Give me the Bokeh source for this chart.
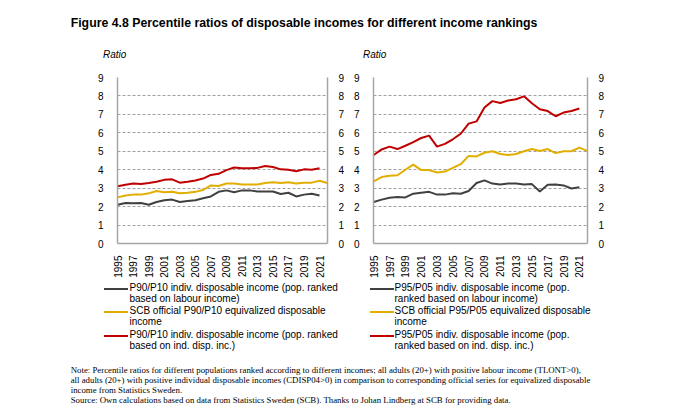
import math
from bokeh.plotting import figure
from bokeh.models import (Range1d, LinearAxis, FixedTicker, Div)
from bokeh.layouts import column, row
from bokeh.embed import file_html
from bokeh.resources import INLINE

# ---------------- data ----------------
years_scb = [1995, 1996, 1997, 1998, 1999, 2000, 2001, 2002, 2003, 2004, 2005, 2006, 2007,
             2008, 2009, 2010, 2011, 2012, 2013, 2014, 2015, 2016, 2017, 2018, 2019, 2020,
             2021, 2022]
years_ind = [1995, 1996, 1997, 1998, 1999, 2000, 2001, 2002, 2003, 2004, 2005, 2006, 2007,
             2008, 2009, 2010, 2011, 2012, 2013, 2014, 2015, 2016, 2017, 2018, 2019, 2020,
             2021]
x_tick_years = [1995, 1997, 1999, 2001, 2003, 2005, 2007, 2009, 2011, 2013, 2015, 2017, 2019, 2021]
y_ticks = [0, 1, 2, 3, 4, 5, 6, 7, 8, 9]

# Left panel: P90/P10
p90p10_labour = [2.10, 2.20, 2.18, 2.20, 2.10, 2.25, 2.35, 2.38, 2.25, 2.30, 2.35, 2.45, 2.55,
                 2.80, 2.88, 2.78, 2.88, 2.88, 2.82, 2.82, 2.82, 2.68, 2.75, 2.55, 2.65, 2.70,
                 2.60]
scb_p90p10 = [2.50, 2.60, 2.65, 2.65, 2.72, 2.85, 2.78, 2.80, 2.72, 2.75, 2.80, 2.90, 3.15,
              3.12, 3.25, 3.25, 3.20, 3.20, 3.20, 3.28, 3.32, 3.28, 3.32, 3.25, 3.30, 3.30,
              3.40, 3.28]
p90p10_ind = [3.10, 3.18, 3.25, 3.22, 3.28, 3.35, 3.45, 3.48, 3.30, 3.35, 3.42, 3.52, 3.72,
              3.78, 3.98, 4.12, 4.08, 4.08, 4.10, 4.20, 4.15, 4.02, 4.00, 3.92, 4.02, 4.00,
              4.08]

# Right panel: P95/P05
p95p05_labour = [2.25, 2.38, 2.48, 2.52, 2.50, 2.70, 2.75, 2.80, 2.65, 2.65, 2.72, 2.70, 2.85,
                 3.28, 3.42, 3.25, 3.20, 3.25, 3.25, 3.20, 3.22, 2.82, 3.18, 3.20, 3.15, 2.98,
                 3.05]
scb_p95p05 = [3.37, 3.60, 3.67, 3.70, 4.00, 4.28, 3.98, 3.98, 3.85, 3.90, 4.10, 4.30, 4.75,
              4.72, 4.92, 5.00, 4.85, 4.80, 4.85, 5.00, 5.12, 5.02, 5.12, 4.90, 5.00, 5.00,
              5.20, 5.02]
p95p05_ind = [4.80, 5.10, 5.25, 5.12, 5.30, 5.50, 5.72, 5.85, 5.25, 5.40, 5.65, 5.95, 6.50,
              6.62, 7.37, 7.72, 7.62, 7.75, 7.82, 7.98, 7.60, 7.28, 7.18, 6.90, 7.10, 7.18,
              7.32]

left_labels = ["P90/P10 indiv. disposable income (pop. ranked\nbased on labour income)",
               "SCB official P90/P10 equivalized disposable\nincome",
               "P90/P10 indiv. disposable income (pop. ranked\nbased on ind. disp. inc.)"]
right_labels = ["P95/P05 indiv. disposable income (pop.\nranked based on labour income)",
                "SCB official P95/P05 equivalized disposable\nincome",
                "P95/P05 indiv. disposable income (pop.\nranked based on ind. disp. inc.)"]

title_text = "Figure 4.8 Percentile ratios of disposable incomes for different income rankings"
axis_title = "Ratio"
note_lines = [
    "Note: Percentile ratios for different populations ranked according to different incomes; all adults (20+) with positive labour income (TLONT&gt;0),",
    "all adults (20+) with positive individual disposable incomes (CDISP04&gt;0) in comparison to corresponding official series for equivalized disposable",
    "income from Statistics Sweden.",
    "Source: Own calculations based on data from Statistics Sweden (SCB). Thanks to Johan Lindberg at SCB for providing data.",
]

# ---------------- style ----------------
C_BLACK = "#404040"
C_YELLOW = "#E2AE00"
C_RED = "#C00000"
SERIES_COLORS = [C_BLACK, C_YELLOW, C_RED]
AXIS_C = "#A6A6A6"
GRID_C = "#A0A0A0"
FONT = "Liberation Sans"


def style_axis(ax):
    ax.axis_line_color = AXIS_C
    ax.axis_line_width = 1.5
    ax.major_tick_line_color = None
    ax.minor_tick_line_color = None
    ax.major_label_text_font = FONT
    ax.major_label_text_font_size = "10px"
    ax.major_label_text_color = "#000000"


def make_chart(black, yellow, red, b_left, f_width, b_right):
    p = figure(frame_width=f_width, frame_height=166,
               min_border_left=b_left, min_border_right=b_right,
               min_border_top=15, min_border_bottom=30,
               x_range=Range1d(1994.97, 2022.03), y_range=Range1d(0, 9),
               output_backend="svg", toolbar_location=None)
    p.outline_line_color = None
    p.background_fill_color = "white"
    p.border_fill_color = "white"
    p.xgrid.visible = False
    p.ygrid.ticker = FixedTicker(ticks=y_ticks)
    p.ygrid.grid_line_color = GRID_C
    p.ygrid.grid_line_dash = "3 2"
    p.ygrid.grid_line_width = 1

    p.xaxis.ticker = FixedTicker(ticks=x_tick_years)
    p.xaxis.major_label_orientation = math.pi / 2
    p.xaxis.major_label_standoff = 6
    p.yaxis.ticker = FixedTicker(ticks=y_ticks)
    p.yaxis.major_label_standoff = 8
    rax = LinearAxis(ticker=FixedTicker(ticks=y_ticks))
    rax.major_label_standoff = 5
    p.add_layout(rax, "right")
    for ax in [p.xaxis[0], p.yaxis[0], rax]:
        style_axis(ax)

    p.line(years_ind, black, line_color=C_BLACK, line_width=2)
    p.line(years_scb, yellow, line_color=C_YELLOW, line_width=2)
    p.line(years_ind, red, line_color=C_RED, line_width=2)
    return p


p_left = make_chart(p90p10_labour, scb_p90p10, p90p10_ind, 117, 210, 18)
p_right = make_chart(p95p05_labour, scb_p95p05, p95p05_ind, 26, 214, 97)

span = "position:absolute;white-space:nowrap;"
top_html = (
    '<div style="position:relative;width:682px;height:62px;font-family:\'Liberation Sans\';color:#000;">'
    f'<span style="{span}left:70.7px;top:16px;font-size:12.3px;font-weight:bold;line-height:14px;">{title_text}</span>'
    f'<span style="{span}left:103px;top:49px;font-size:10px;font-style:italic;line-height:12px;">{axis_title}</span>'
    f'<span style="{span}left:363px;top:49px;font-size:10px;font-style:italic;line-height:12px;">{axis_title}</span>'
    '</div>'
)
top_div = Div(text=top_html, width=682, height=62, margin=0)

# legend + notes block (placed right under the charts)
item_tops = [3, 26, 50]


def legend_html(labels, swatch_x, text_x):
    out = []
    for lab, col, top in zip(labels, SERIES_COLORS, item_tops):
        out.append(f'<div style="position:absolute;left:{swatch_x}px;top:{top + 4.5}px;width:24px;'
                   f'height:0;border-top:2px solid {col};"></div>')
        out.append(f'<div style="{span}left:{text_x}px;top:{top}px;font-size:10px;line-height:10.5px;">'
                   + lab.replace("\n", "<br>") + '</div>')
    return "".join(out)


bottom_html = (
    '<div style="position:relative;width:682px;height:130px;font-family:\'Liberation Sans\';color:#000;">'
    + legend_html(left_labels, 104, 129.5)
    + legend_html(right_labels, 370, 394.5)
    + f'<div style="{span}left:70.7px;top:85px;font-family:\'Liberation Serif\';font-size:8.8px;line-height:10px;">'
    + "<br>".join(note_lines)
    + '</div></div>'
)
bottom_div = Div(text=bottom_html, width=682, height=130, margin=0)

layout = column(top_div, row(p_left, p_right, spacing=0), bottom_div, spacing=0)

with open("out.html", "w") as f:
    f.write(file_html(layout, INLINE))
